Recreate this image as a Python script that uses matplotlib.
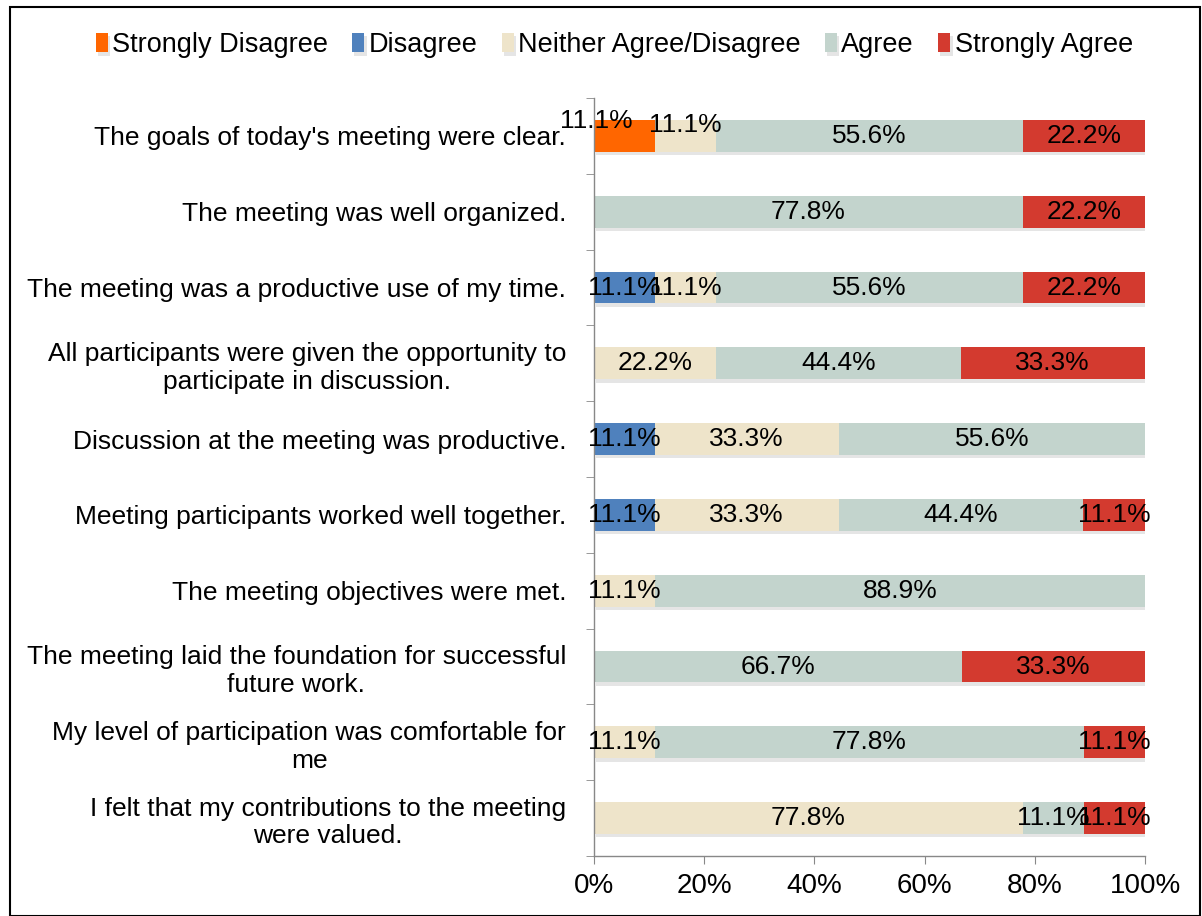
import matplotlib
matplotlib.use("Agg")
import matplotlib.pyplot as plt
from matplotlib.patches import Rectangle
import matplotlib.patheffects as pe
import numpy as np

plt.rcParams['font.family'] = ['Liberation Sans', 'DejaVu Sans']

categories = [
    "The goals of today's meeting were clear.",
    "The meeting was well organized.",
    "The meeting was a productive use of my time.",
    "All participants were given the opportunity to\nparticipate in discussion.",
    "Discussion at the meeting was productive.",
    "Meeting participants worked well together.",
    "The meeting objectives were met.",
    "The meeting laid the foundation for successful\nfuture work.",
    "My level of participation was comfortable for\nme",
    "I felt that my contributions to the meeting\nwere valued.",
]
series_names = ["Strongly Disagree", "Disagree", "Neither Agree/Disagree", "Agree", "Strongly Agree"]
strongly_disagree = [11.1, 0, 0, 0, 0, 0, 0, 0, 0, 0]
disagree = [0, 0, 11.1, 0, 11.1, 11.1, 0, 0, 0, 0]
neither = [11.1, 0, 11.1, 22.2, 33.3, 33.3, 11.1, 0, 11.1, 77.8]
agree = [55.6, 77.8, 55.6, 44.4, 55.6, 44.4, 88.9, 66.7, 77.8, 11.1]
strongly_agree = [22.2, 22.2, 22.2, 33.3, 0, 11.1, 0, 33.3, 11.1, 11.1]
colors = ["#FF6600", "#4F81BD", "#EEE4CA", "#C3D4CD", "#D33A2F"]
xticks = [0, 20, 40, 60, 80, 100]

fig = plt.figure(figsize=(12.02, 9.16), dpi=100)
ax = fig.add_axes([0.494, 0.0655, 0.4587, 0.8275])

data = [strongly_disagree, disagree, neither, agree, strongly_agree]
y = np.arange(len(categories))
left = np.zeros(len(categories))
shadow = [pe.SimplePatchShadow(offset=(1.5, -2.5), shadow_rgbFace='#aaaaaa', alpha=0.3), pe.Normal()]
for vals, name, col in zip(data, series_names, colors):
    vals = np.array(vals, dtype=float)
    bars = ax.barh(y, vals, left=left, height=0.42, color=col, label=name, zorder=2)
    for b in bars:
        b.set_path_effects(shadow)
    for i, v in enumerate(vals):
        if v > 0:
            cx = left[i] + v / 2
            cy = y[i]
            if i == 0 and name == "Strongly Disagree":
                cx, cy = left[i] + 0.5, y[i] - 0.2
            elif i == 0 and name == "Neither Agree/Disagree":
                cy = y[i] - 0.15
            ax.text(cx, cy, f"{v:.1f}%", ha='center', va='center', fontsize=19, color='black', zorder=5)
    left = left + vals

ax.set_ylim(len(categories) - 0.5, -0.5)
ax.set_xlim(0, 100)
ax.set_yticks(y)
ax.set_yticklabels(categories, fontsize=19, multialignment='center')
ax.set_yticks(np.arange(-0.5, len(categories) + 0.5, 1), minor=True)
ax.tick_params(axis='y', which='major', length=0, pad=20)
ax.tick_params(axis='y', which='minor', length=6, color='#888888', direction='out')
ax.set_xticks(xticks)
ax.set_xticklabels([f"{t}%" for t in xticks], fontsize=20)
ax.tick_params(axis='x', length=6, color='#888888', direction='out', pad=6)
for s in ['top', 'right']:
    ax.spines[s].set_visible(False)
for s in ['left', 'bottom']:
    ax.spines[s].set_color('#888888')
    ax.spines[s].set_linewidth(1)

leg = fig.legend(loc='center', bbox_to_anchor=(0.511, 0.951), ncol=5, frameon=False,
                 fontsize=19.5, handlelength=0.45, handleheight=0.75, handletextpad=0.15,
                 columnspacing=0.9)

fig.add_artist(Rectangle((0.008, 0.0), 0.99, 0.992, transform=fig.transFigure,
                         fill=False, edgecolor='black', linewidth=1.5))

fig.savefig("out.png", dpi=100)
